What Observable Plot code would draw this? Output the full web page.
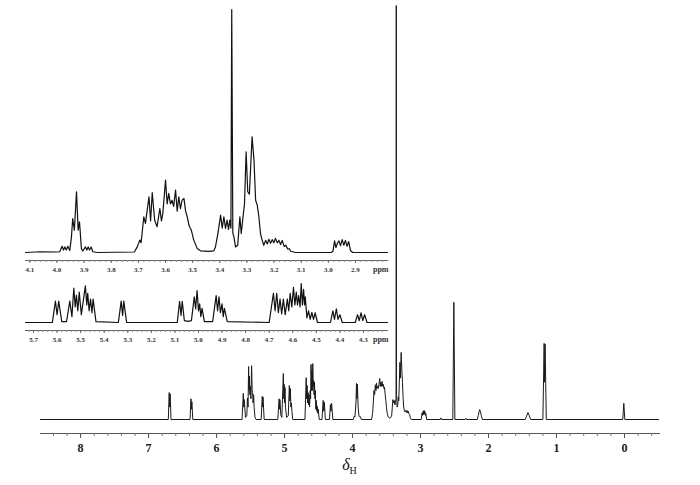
<!DOCTYPE html>
<html><head><meta charset="utf-8">
<script src="https://cdn.jsdelivr.net/npm/d3@7"></script>
<script src="https://cdn.jsdelivr.net/npm/@observablehq/plot@0.6"></script>
<style>
body{margin:0;background:#fff;}
#chart{position:relative;width:700px;height:485px;background:#fff;}
#chart > svg{position:absolute;left:0;top:0;}
</style></head><body><div id="chart"></div>
<script>
// ---- Main 1H NMR spectrum (chemical shift in ppm, relative intensity %) ----
const mainPpm = [8.59,6.71,6.697,6.69,6.683,6.67,6.39,6.377,6.37,6.363,6.35,
5.625,5.607,5.6,5.593,5.575,5.555,5.546,5.537,5.529,5.523,5.518,5.51,5.503,5.495,5.485,5.476,5.47,5.463,5.455,5.448,5.435,5.42,
5.345,5.328,5.322,5.317,5.3,
5.1,5.08,5.074,5.069,5.055,5.04,5.018,5.011,5.006,5.0,4.993,4.987,4.98,4.97,4.945,4.93,4.922,4.915,4.907,4.9,4.892,4.88,
4.7,4.682,4.675,4.668,4.66,4.654,4.647,4.64,4.632,4.623,4.617,4.611,4.604,4.597,4.591,4.585,4.578,4.572,4.566,4.56,4.553,4.547,4.54,4.533,4.526,4.519,4.512,4.505,4.49,
4.45,4.432,4.424,4.415,4.4,4.34,4.325,4.317,4.308,4.29,
3.99,3.975,3.965,3.95,3.942,3.935,3.928,3.918,3.905,3.895,3.885,3.87,
3.72,3.705,3.695,3.685,3.675,3.665,3.655,3.648,3.64,3.63,3.622,3.612,3.6,3.592,3.585,3.577,3.565,3.556,3.548,3.538,3.53,3.52,3.51,3.5,3.49,3.475,3.45,3.425,
3.415,3.407,3.397,3.387,3.377,3.368,3.36,3.357,3.353,3.345,3.335,3.326,3.32,3.312,3.303,3.296,3.285,3.275,3.266,3.257,3.248,3.238,3.228,3.218,3.208,3.198,3.19,3.18,3.17,3.16,3.15,3.135,
2.99,2.977,2.97,2.961,2.955,2.949,2.943,2.937,2.93,2.923,2.91,
2.71,2.7,2.69,2.525,2.51,2.495,2.345,2.335,2.325,
2.165,2.15,2.14,2.13,2.12,2.11,2.09,
1.46,1.44,1.42,1.4,1.38,
1.2,1.182,1.175,1.168,1.15,
0.025,0.01,-0.005,-0.515];
const mainIntensity = [0,0,6.5,3,6.2,0,0,5.0,2.5,4.3,0,
0,6.3,3,4.8,0.5,1,5.2,3,12.8,7,10.5,6,8,5,13,7,6.5,4,6,3,0.5,0,
0,5.6,3,5.4,0,
0,5.0,2.5,4.8,1,0.5,11.1,5,8.5,4,7.7,3,2,0.5,1,8.2,4.5,7.5,3,4,2,0,
0,10.1,5,8.2,4,6.5,3.5,6,3,7,5,13.3,7,12,7,13.5,8,9.4,6,9,5,7,2.5,4.6,2,3.2,1.5,2.5,0,
0,4.6,2,4.2,0,0,3.6,2,3.9,0,
0,0.8,0.6,4,8.7,5,8.5,3,0.8,0.6,0.7,0,
0,1.5,4,7,6,8.4,7,8.8,7.5,8,7.5,8.5,9.9,8,9,8,9.2,8,8.5,7.5,7.8,6,4.5,2.8,1.5,0.6,0.3,0.8,
3,4.8,4,4.6,3.5,4.5,5,100,6,3,3.5,5.5,4.5,9,13.8,10,16.2,12,9,5.5,3,2.2,1.8,2.2,1.7,2.2,1.6,2,1.3,1.2,0.4,0,
0,1.6,1,2,1.2,2.2,1.3,2,1,1.5,0,
0,0.4,0,0,28.3,0,0,0.3,0,
0,1,1.8,2.4,2,1.2,0,
0,0.8,1.7,0.9,0,
0,18.4,9,18.2,0,
0,3.9,0,0];
const mainTickLabels = [8,7,6,5,4,3,2,1,0];

// ---- Inset 1: 4.1 – 2.9 ppm expansion ----
const inset1Ppm = [4.116,4.06,4.0,3.99,3.981,3.976,3.971,3.966,3.96,3.953,3.947,3.942,3.936,3.928,3.922,3.917,3.91,3.905,3.895,3.89,3.885,3.88,3.874,3.868,3.85,
3.715,3.704,3.695,3.69,3.68,3.674,3.661,3.655,3.649,3.64,3.631,3.621,3.615,3.61,3.6,3.594,3.588,3.582,3.576,3.57,3.563,3.557,3.551,3.545,3.539,3.532,3.526,3.52,3.513,3.505,3.496,3.483,3.471,3.44,3.422,
3.416,3.407,3.397,3.391,3.385,3.379,3.373,3.368,3.363,3.359,3.356,3.352,3.348,3.342,3.334,3.326,3.321,3.315,3.309,3.303,3.297,3.291,3.281,3.274,3.268,3.262,3.256,3.25,3.244,3.238,3.231,3.225,3.219,3.213,3.207,3.201,3.195,3.188,3.182,3.176,3.17,3.163,3.157,3.15,3.143,3.139,3.12,
2.99,2.983,2.977,2.972,2.966,2.961,2.955,2.949,2.943,2.937,2.931,2.925,2.918,2.91,2.782];
const inset1Intensity = [0,0.3,0.2,0.3,2.6,1,2.3,1,2.6,0.8,6,14,9.2,25,9.2,12.6,1.6,0.6,2.3,1,2.3,1,2.3,0.3,0,
0.2,2.3,5.1,4,14.7,12,22.9,13,24.6,13.3,10.6,18.1,13,16,29.8,20,24.3,20,21.5,19,25.7,17,22.9,18,21.5,22.2,17,14.7,11,9.2,5.1,1.6,0.7,0.5,0.7,
2.3,7.8,15.4,10,14.7,9.9,13.3,9.5,13.3,10,100,8,6.4,2.3,3,14.7,7.8,14,20,41.4,25,24,47.6,38,21.5,19.5,14.7,7.8,5.1,3,5,3.5,5.5,3.8,5.3,4,5.8,4,5,3.3,5,2.5,3,1.5,1.5,0.5,0,
0,0.5,4.8,2,4,4.8,2.8,5.3,3,5,2.5,4.5,0.7,0,0];
const inset1TickLabels = [4.1,4.0,3.9,3.8,3.7,3.6,3.5,3.4,3.3,3.2,3.1,3.0,2.9];

// ---- Inset 2: 5.7 – 4.3 ppm expansion ----
const inset2Ppm = [5.734,5.62,5.607,5.6,5.593,5.58,5.56,5.546,5.537,5.529,5.523,5.518,5.512,5.506,5.497,5.48,5.474,5.47,5.464,5.458,5.452,5.447,5.435,
5.34,5.328,5.322,5.317,5.305,
5.09,5.08,5.074,5.069,5.06,5.045,5.03,5.018,5.012,5.006,5.0,4.995,4.99,4.985,4.975,4.94,4.925,4.919,4.913,4.907,4.9,4.895,4.89,4.878,
4.7,4.682,4.675,4.668,4.661,4.654,4.647,4.64,4.632,4.623,4.617,4.611,4.604,4.597,4.591,4.585,4.58,4.575,4.569,4.564,4.559,4.554,4.55,4.547,4.54,4.533,4.526,4.519,4.512,4.505,4.495,
4.44,4.43,4.423,4.415,4.408,4.4,4.39,4.335,4.325,4.318,4.31,4.303,4.295,4.285,4.198];
const inset2Intensity = [0,0,55,20,55,2,2,55,15,88,40,70,30,78,20,94,45,75,30,60,25,60,2,
0,55,18,55,0,
0,54,18,54,5,3,5,66,35,82,30,48,15,36,2,2,69,30,66,25,48,15,36,2,
0,75,30,75,25,60,22,60,20,60,30,75,40,90,45,78,45,69,40,100,45,85,45,66,12,30,8,26,8,25,0,
0,30,8,35,8,20,0,0,20,5,25,5,20,0,0];
const inset2TickLabels = [5.7,5.6,5.5,5.4,5.3,5.2,5.1,5.0,4.9,4.8,4.7,4.6,4.5,4.4,4.3];

const toRows = (xs, ys) => xs.map((x, i) => ({ppm: x, intensity: ys[i]}));
const mainData = toRows(mainPpm, mainIntensity);
const inset1Data = toRows(inset1Ppm, inset1Intensity);
const inset2Data = toRows(inset2Ppm, inset2Intensity);
const minor = (a, b, s) => d3.range(Math.round(a / s), Math.round(b / s) + 1).map(k => +(k * s).toFixed(3));

const serif = "'Liberation Serif', 'DejaVu Serif', serif";
const transparent = {background: "transparent", overflow: "visible"};
const chart = document.getElementById("chart");

// Main plot
const mainPlot = Plot.plot({
  width: 700, height: 485,
  marginLeft: 40, marginRight: 41, marginTop: 5, marginBottom: 52,
  style: transparent,
  x: {domain: [8.59, -0.515]},
  y: {domain: [0, 100], range: [419, 5], axis: null},
  marks: [
    Plot.frame({anchor: "bottom", stroke: "#555"}),
    Plot.axisX({ticks: minor(-0.4, 8.4, 0.2), tickSize: 3, tickFormat: () => "", stroke: "#777", label: null}),
    Plot.axisX({ticks: mainTickLabels, tickSize: 5, tickPadding: 5, tickFormat: d => String(d),
      stroke: "#555", fill: "#222", fontSize: 12, fontWeight: "bold", fontFamily: serif, label: null}),
    Plot.line(mainData, {x: "ppm", y: "intensity", stroke: "#1a1a1a", strokeWidth: 1, clip: true})
  ]
});
chart.appendChild(mainPlot);
{
  const xr = mainPlot.scale("x").range;
  const cx = (xr[0] + xr[1]) / 2;
  const t = d3.select(mainPlot).append("text")
    .attr("x", cx).attr("y", 470).attr("text-anchor", "middle")
    .attr("font-family", serif).attr("fill", "#111");
  t.append("tspan").attr("font-style", "italic").attr("font-size", 16).text("δ");
  t.append("tspan").attr("font-size", 10).attr("dy", 4).text("H");
}

function inset(data, domain, ticks, minorTicks, top, baseline, axisY) {
  const p = Plot.plot({
    width: 700, height: 485,
    marginLeft: 25, marginRight: 313, marginTop: top, marginBottom: 485 - axisY,
    style: transparent,
    x: {domain},
    y: {domain: [0, 100], range: [baseline, top], axis: null},
    marks: [
      Plot.frame({anchor: "bottom", stroke: "#666"}),
      Plot.axisX({ticks: minorTicks, tickSize: 2, tickFormat: () => "", stroke: "#888", label: null}),
      Plot.axisX({ticks, tickSize: 3, tickPadding: 4, tickFormat: d => d.toFixed(1), stroke: "#666",
        fill: "#333", fontSize: 7, fontWeight: "bold", fontFamily: serif, label: null}),
      Plot.text(["ppm"], {frameAnchor: "bottom-right", text: d => d, dy: 11, dx: 1, textAnchor: "end",
        fill: "#333", fontSize: 8, fontWeight: "bold", fontFamily: serif}),
      Plot.line(data, {x: "ppm", y: "intensity", stroke: "#111", strokeWidth: 1.2})
    ]
  });
  chart.appendChild(p);
}
inset(inset1Data, [4.116, 2.782], inset1TickLabels, minor(2.8, 4.1, 0.02), 9, 252, 260);
inset(inset2Data, [5.734, 4.198], inset2TickLabels, minor(4.22, 5.72, 0.02), 283, 322, 330);
</script></body></html>
